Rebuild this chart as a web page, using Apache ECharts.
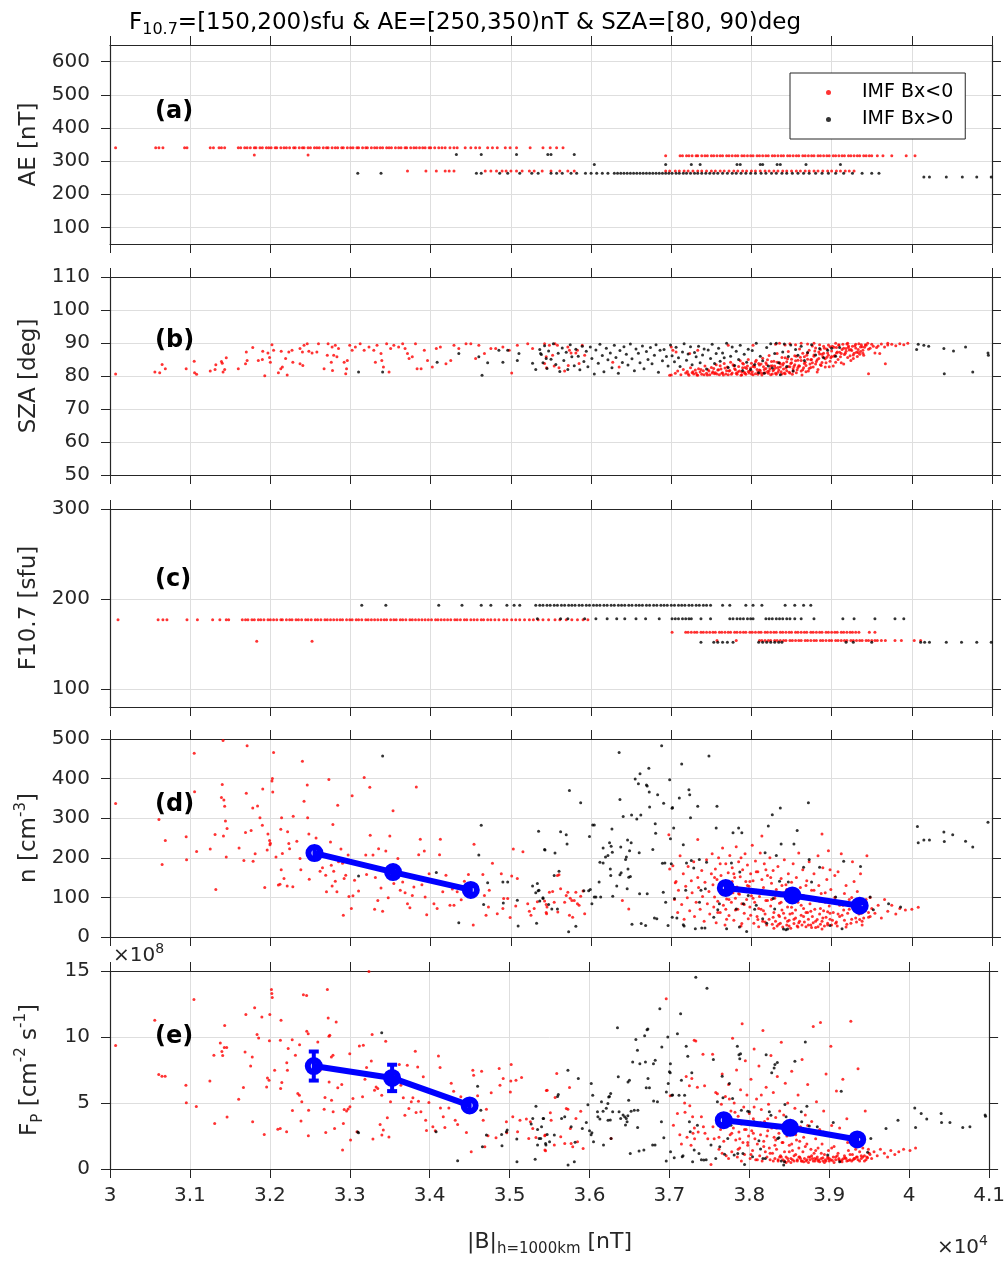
<!DOCTYPE html>
<html><head><meta charset="utf-8">
<script src="https://cdn.jsdelivr.net/npm/echarts@6/dist/echarts.min.js"></script>
<style>html,body{margin:0;padding:0;background:#fff}#c{width:1008px;height:1264px}</style>
</head><body><div id="c"></div><script>
// ---------------- DATA ----------------
// x: |B| at h=1000km in nT
const xTicks = [30000,31000,32000,33000,34000,35000,36000,37000,38000,39000,40000,41000];
const aeTicks = [100,200,300,400,500,600];
const szaTicks = [50,60,70,80,90,100,110];
const f107Ticks = [100,200,300];
const nTicks = [0,100,200,300,400,500];
const fpTicks = [0,5,10,15];

// Panel (a): AE (nT), discrete levels, |B| values per level
const aeRed340B = [30070,30570,30610,30660,30930,30960,31250,31290,31360,31390,31430,31600,31630,31680,31710,31750,31800,31820,31870,31900,31950,31980,32010,32060,32080,32130,32170,32200,32240,32290,32310,32360,32400,32420,32470,32500,32550,32580,32610,32660,32700,32720,32770,32810,32840,32890,32910,32960,33000,33030,33080,33100,33150,33190,33210,33260,33300,33330,33370,33400,33450,33480,33510,33560,33600,33630,33680,33700,33750,33790,33820,33860,33900,33930,33980,34000,34050,34100,34140,34180,34240,34290,34330,34430,34500,34560,34610,34710,34770,34830,34930,34990,35070,35240,35400,35490,35570,35650];
const aeRed318B = [31800,32470];
const aeRed316B = [36930,37110,37140,37190,37220,37260,37310,37330,37380,37420,37450,37500,37530,37570,37610,37640,37690,37720,37760,37800,37830,37880,37910,37950,37990,38020,38070,38100,38140,38180,38210,38260,38290,38330,38370,38400,38450,38480,38520,38560,38590,38640,38670,38710,38750,38780,38830,38860,38900,38940,38970,39020,39050,39090,39130,39160,39210,39240,39280,39320,39350,39400,39430,39470,39500,39570,39640,39750,39930,40040];
const aeRed270B = [33710,33940,34070,34180,34230,34290,34680,34750,34820,34890,34940,35000,35070,35140,35230,35290,35390,35500,35610,35710,35790,36930,36980,37050,37100,37160,37210,37270,37330,37380,37440,37500,37550,37610,37660,37720,37780,37830,37890,37940,38000,38050,38110,38170,38220,38280,38330,38390,38440,38500,38560,38610,38670,38720,38780,38830,38890,38950,39000,39060,39110,39170,39220,39280];
const aeBlack320B = [34320,34630,35070,35460,35500,35790];
const aeBlack290B = [36040,36930,37250,37360,37820,37860,38110,38140,38320,38360,38680,39110];
const aeBlack263B = [33090,33380,34570,34630,34860,34960,35110,35260,35340,35500,35570,35640,35750,35820,35930,36000,36070,36140,36210,36290,36330,36370,36410,36450,36490,36530,36570,36610,36650,36690,36730,36770,36810,36850,36890,36930,36970,37010,37060,37100,37150,37190,37240,37290,37330,37380,37430,37480,37530,37580,37640,37700,37760,37810,37870,37930,37990,38050,38120,38180,38250,38310,38380,38440,38510,38580,38650,38720,38800,38880,38960,39050,39150,39260,39380,39500,39590];
const aeBlack252B = [40150,40220,40430,40630,40810,40990];

// Panel (c): F10.7 (sfu), discrete levels
const f107Red177B = [30100,30600,30660,30710,30960,31090,31280,31370,31450,31480,31650,31690,31720,31770,31800,31850,31880,31920,31970,32000,32040,32080,32130,32150,32200,32240,32270,32320,32350,32390,32440,32470,32510,32560,32590,32630,32680,32710,32750,32790,32830,32870,32900,32950,32990,33020,33070,33100,33140,33190,33220,33260,33300,33340,33380,33420,33450,33500,33540,33570,33620,33650,33690,33740,33770,33810,33850,33890,33930,33970,34010,34060,34090,34130,34170,34210,34250,34300,34330,34370,34420,34450,34500,34540,34580,34630,34660,34710,34750,34800,34850,34910,34950,35010,35060,35110,35170,35230,35280,35340,35400,35470,35550,35610,35690,35760,35830,35900,35960];
const f107Red153B = [31830,32520];
const f107Red163B = [37010,37180,37210,37250,37290,37320,37370,37400,37440,37480,37520,37550,37600,37630,37670,37710,37740,37790,37820,37860,37900,37930,37980,38010,38050,38090,38120,38170,38200,38240,38280,38310,38360,38390,38430,38470,38500,38550,38580,38620,38660,38690,38740,38770,38810,38850,38880,38930,38960,39000,39040,39070,39120,39150,39190,39230,39260,39300,39340,39470,39540];
const f107Red154B = [37570,37810,38100,38130,38170,38210,38240,38290,38320,38360,38400,38430,38480,38510,38550,38590,38620,38670,38700,38740,38780,38810,38860,38890,38930,38970,39000,39050,39080,39120,39160,39190,39240,39270,39310,39350,39380,39430,39460,39500,39540,39570,39620,39670,39790,39870,40030,40110];
const f107Black193B = [33140,33440,34100,34390,34630,34750,34950,35040,35110,35310,35360,35400,35450,35490,35540,35580,35630,35670,35720,35760,35800,35850,35890,35940,35980,36030,36070,36110,36160,36200,36250,36290,36340,36380,36420,36470,36510,36560,36600,36640,36690,36730,36780,36820,36870,36910,36950,37000,37040,37090,37130,37170,37220,37260,37310,37350,37400,37440,37490,37640,37730,37930,38020,38130,38420,38540,38650,38740];
const f107Black178B = [35330,35620,35710,35920,36060,36200,36320,36420,36560,36680,36850,37010,37050,37090,37140,37180,37220,37250,37370,37490,37730,37770,37820,37860,37900,37950,37990,38020,38180,38220,38260,38310,38350,38390,38440,38480,38540,38620,38780,39140,39280,39540,39790,39900];
const f107Black152B = [37370,37530,37580,37640,37700,37770,38090,38140,38190,38240,38290,38340,38380,39180,39270,39500,40110,40160,40220,40430,40620,40810,40990];

// Panel (b): SZA (deg)
const szaRed = [[30070,80.6],[30560,81.2],[30620,81.0],[30650,83.5],[30690,82.2],[30950,82.2],[31050,84.5],[31055,81.0],[31080,80.5],[31250,81.5],[31310,82.0],[31320,83.4],[31390,84.4],[31400,83.9],[31450,85.5],[31430,82.0],[31410,81.2],[31600,82.2],[31690,83.7],[31700,87.3],[31780,88.6],[31710,84.7],[31850,84.7],[31900,85.0],[31905,87.5],[31930,80.1],[31970,87.0],[32000,84.2],[32020,89.5],[32040,87.8],[31990,85.6],[32100,81.0],[32130,82.2],[32150,82.7],[32135,87.5],[32190,85.3],[32230,87.3],[32270,87.8],[32280,84.2],[32210,80.3],[32370,88.3],[32400,87.3],[32420,89.3],[32460,89.8],[32480,87.5],[32520,87.0],[32580,87.3],[32600,89.8],[32405,83.2],[32370,83.7],[32670,82.2],[32710,86.3],[32720,89.8],[32770,88.8],[32760,84.2],[32790,86.3],[32810,89.3],[32775,81.7],[32830,85.8],[32850,88.3],[32920,84.2],[32940,80.7],[32950,82.2],[32960,84.7],[32990,89.3],[33020,87.8],[33060,88.8],[33120,89.8],[33170,87.8],[33230,88.8],[33290,87.8],[33310,84.2],[33330,89.3],[33380,86.8],[33390,84.7],[33410,82.7],[33450,89.8],[33480,81.2],[33500,88.3],[33540,89.3],[33600,88.8],[33650,89.8],[33680,88.3],[33710,86.8],[33730,85.3],[33770,85.8],[33810,89.8],[33830,82.2],[33880,82.2],[33920,87.8],[33960,84.7],[34020,82.7],[34070,88.3],[34120,88.8],[34190,83.7],[34250,84.7],[34290,89.3],[34350,88.3],[34440,89.8],[34500,89.8],[34560,85.3],[34600,89.3],[34670,86.8],[34750,88.3],[34810,88.3],[34900,88.8],[34980,87.8],[35010,80.9],[35080,89.3],[35210,89.8],[35270,88.3],[35420,89.8],
[35440,85.8],[35480,89.3],[35520,86.3],[35550,89.8],[35580,89.3],[35420,83.8],[35445,82.5],[35540,83.0],[35600,82.5],[35670,81.5],[35710,88.8],[35730,87.8],[35750,87.0],[35810,87.0],[35830,87.8],[35850,83.8],[35890,89.3],[35920,86.3],[35715,83.2],[36270,84.2],[36350,82.7],[36980,80.2],[37020,87.8],[37060,87.3],[37000,88.8],[37230,86.8],[37330,87.8],[37710,89.3],[38020,89.3],
[37000,80.3],[37050,80.8],[37080,81.5],[37120,80.4],[37150,82.0],[37180,80.9],[37200,81.4],[37220,80.2],[37240,82.5],[37260,81.0],[37280,80.6],[37300,81.8],[37320,80.3],[37340,82.2],[37360,81.2],[37380,80.5],[37400,81.6],[37420,83.0],[37440,80.8],[37460,81.9],[37480,80.4],[37500,82.6],[37520,81.3],[37540,80.7],[37560,83.4],[37580,81.8],[37600,80.4],[37620,82.1],[37640,81.0],[37660,83.8],[37680,80.6],[37700,82.7],[37720,81.5],[37740,84.2],[37760,80.9],[37780,83.1],[37800,81.9],[37820,80.5],[37840,82.9],[37860,84.6],[37880,81.3],[37900,83.6],[37920,80.8],[37940,82.3],[37960,85.0],[37980,81.6],[38000,83.9],[38020,80.4],[38040,82.7],[38060,84.8],[38080,81.2],[38100,83.3],[38120,80.9],[38140,85.4],[38160,82.0],[38180,84.0],[38200,81.4],[38220,86.2],[38240,83.0],[38260,80.6],[38280,84.5],[38300,82.4],[38320,86.8],[38340,81.8],[38360,83.7],[38380,85.6],[38400,82.1],[38420,80.7],[38440,84.3],[38460,87.4],[38480,82.8],[38500,85.1],[38520,81.5],[38540,83.4],[38560,86.0],[38580,82.6],[38600,88.2],[38620,84.7],[38640,81.9],[38660,85.8],[38680,83.2],[38700,87.0],[38720,82.3],[38740,84.9],[38760,89.1],[38780,86.4],[38800,83.6],[38820,81.2],[38840,85.3],[38860,88.0],[38880,84.1],[38900,86.9],[38920,82.7],[38940,85.7],[38960,89.4],[38980,84.5],[39000,87.6],[39020,83.0],[39040,86.2],[39060,88.6],[39080,85.0],[39100,87.2],[39120,84.0],[39140,89.6],[39160,86.5],[39180,88.3],[39200,85.6],[39220,87.9],[39240,84.7],[39260,89.0],[39280,86.9],[39300,88.5],[39320,85.9],[39340,89.8],[39360,87.4],[39380,88.9],[39400,86.3],[39430,89.3],[39460,88.1],[39500,89.6],[39540,87.0],[39580,89.1],[39620,89.7],[39660,88.8],[39700,89.4],[39750,89.6],[39800,89.2],[39850,89.8],[39900,89.5],[39950,89.9],
[37330,80.2],[37450,80.3],[37550,81.0],[37650,80.3],[37690,81.6],[37750,80.5],[37790,82.2],[37810,80.8],[37850,81.5],[37870,80.2],[37890,82.5],[37910,81.1],[37930,80.5],[37950,83.0],[37970,80.9],[37990,82.4],[38010,81.3],[38030,83.2],[38050,80.7],[38070,82.0],[38090,83.8],[38110,81.7],[38130,80.3],[38150,82.8],[38170,81.0],[38190,83.5],[38210,80.8],[38230,82.2],[38250,84.4],[38270,81.6],[38290,83.0],[38310,80.5],[38330,82.6],[38350,84.0],[38370,81.3],[38390,83.3],[38410,80.9],[38430,82.4],[38450,85.2],[38470,81.1],[38490,83.8],[38510,80.5],[38530,82.9],[38550,84.6],[38570,81.9],[38590,83.1],[38610,85.7],[38630,80.3],[38650,82.5],[38670,84.2],[38690,86.3],[38710,81.5],[38730,83.6],[38750,85.0],[38770,82.7],[38790,87.6],[38810,84.4],[38830,82.0],[38850,86.7],[38870,83.2],[38890,85.8],[38910,88.4],[38930,84.0],[38950,87.0],[38970,82.8],[38990,85.5],[39010,89.0],[39030,86.0],[39050,84.2],[39070,87.3],[39090,89.5],[39110,85.8],[39130,88.0],[39150,83.6],[39170,86.9],[39190,89.7],[39210,88.6],[39230,86.1],[39250,87.7],[39270,85.3],[39290,89.2],[39310,87.2],[39330,88.0],[39350,86.6],[39370,89.5],[39390,87.8],[39410,88.7],
[38300,89.6],[38350,89.9],[38420,89.4],[38480,89.8],[38550,89.5],[38620,89.9],[38700,89.7],[38780,89.9],[38850,89.5],[39050,89.9],[39200,89.9],[39450,89.9],[39700,89.9],[39460,80.7],[39670,83.7],[39560,88.6],[39600,86.8]];
// additional readings inside the dense red SZA cluster
const szaRedDense = [[37210,80.7],[37270,81.3],[37310,80.9],[37370,82.0],[37410,80.4],[37470,81.5],[37510,80.9],[37530,82.3],[37570,80.6],[37590,81.9],[37610,83.1],[37630,80.8],[37670,82.4],[37710,80.4],[37730,81.7],[37770,83.4],[37830,81.2],[37880,80.4],[37890,83.9],[37920,82.6],[37960,81.4],[38000,80.6],[38020,82.9],[38050,84.3],[38080,80.5],[38100,81.8],[38120,83.6],[38150,80.9],[38180,82.3],[38200,84.9],[38220,81.5],[38240,80.4],[38260,83.1],[38280,82.0],[38300,80.8],[38320,84.2],[38330,81.1],[38360,82.7],[38380,80.6],[38400,83.9],[38420,85.5],[38440,81.6],[38460,82.9],[38480,80.9],[38500,84.0],[38520,82.2],[38540,86.1],[38560,81.0],[38580,84.8],[38600,83.0],[38620,81.5],[38640,86.9],[38660,83.8],[38680,81.3],[38700,85.1],[38720,87.8],[38740,82.6],[38760,84.0],[38780,86.0],[38800,88.5],[38820,84.9],[38840,87.3],[38860,83.4],[38880,86.6],[38900,89.0],[38920,85.2],[38940,88.2],[38960,86.3],[38980,88.9],[39000,85.9],[39030,88.7],[39060,87.0],[39090,89.3],[39120,86.8],[39150,88.4],[39180,87.5],[39210,89.1],[39240,88.0],[39270,86.4],[39300,89.6],[39330,87.1],[39360,88.8],[39390,86.9],[39420,89.5],[39480,88.4],[39520,89.0]];
const szaBlack = [[33100,81.2],[33400,81.2],[34080,84.2],[34350,86.8],[34600,85.8],[34640,80.2],[34710,84.0],[34900,84.2],[34850,87.8],[34960,87.8],[35080,84.7],[35100,86.8],[35270,83.9],[35310,82.0],[35370,86.8],[35440,85.3],
[35360,88.0],[35380,86.5],[35400,84.0],[35420,89.2],[35450,82.3],[35470,87.6],[35500,85.1],[35530,89.8],[35560,83.5],[35590,86.9],[35610,81.4],[35640,88.5],[35660,84.7],[35690,87.2],[35710,82.0],[35740,89.5],[35760,85.8],[35790,83.1],[35810,88.1],[35840,86.0],[35860,81.9],[35890,89.0],[35910,84.4],[35940,87.5],[35960,82.8],[35990,88.8],[36010,85.3],[36040,80.6],[36060,87.9],[36090,83.9],[36110,89.6],[36140,86.2],[36160,81.3],[36190,88.4],[36210,84.9],[36240,87.0],[36260,82.5],[36290,89.3],[36310,85.6],[36340,80.8],[36360,87.7],[36390,84.1],[36410,88.9],[36440,86.6],[36460,83.3],[36490,89.7],[36510,85.2],[36540,81.6],[36560,88.2],[36590,86.9],[36610,84.0],[36640,89.1],[36660,82.2],[36690,87.4],[36710,85.0],[36740,88.6],[36760,83.7],[36790,86.3],[36810,89.5],[36840,81.1],[36860,87.8],[36890,84.6],[36910,88.0],[36940,85.9],[36960,83.0],[36990,89.4],[37010,86.1],[37040,84.3],[37060,88.7],[37090,85.5],[37110,82.9],[37140,87.3],[37160,89.8],[37190,84.8],[37210,86.7],[37240,88.9],[37260,83.4],[37290,87.1],[37310,85.8],[37340,89.0],[37360,84.0],[37390,86.4],[37410,88.2],[37440,82.1],[37460,87.9],[37490,85.3],[37510,89.6],[37540,83.8],[37560,86.8],[37590,88.4],[37610,84.5],[37640,87.0],[37660,85.5],[37690,89.9],[37710,82.6],[37740,86.0],[37760,88.8],[37790,83.2],[37810,87.5],[37840,85.0],[37860,89.3],[37890,81.7],[37910,86.6],[37940,84.2],[37960,88.1],[37990,82.0],[38010,87.7],[38040,83.5],[38060,89.9],[38090,81.0],[38110,86.0],[38140,84.6],[38160,80.8],[38190,88.6],[38210,83.0],[38240,89.8],[38260,82.4],[38290,86.8],[38310,89.9],[38340,84.0],[38360,80.4],[38390,87.3],[38410,89.7],[38440,82.9],[38460,85.9],[38490,89.4],[38520,81.5],[38550,88.0],[38580,86.3],[38620,89.0],[38660,84.7],[38700,87.1],[38750,89.5],[38800,86.4],[38850,88.3],[38900,85.5],[38950,87.8],[39000,88.4],[39050,86.0],[39100,88.6],
[40060,88.0],[40080,89.6],[40150,89.3],[40210,89.0],[40400,88.3],[40405,80.7],[40520,87.6],[40670,88.8],[40760,81.2],[40950,87.0],[40955,86.3]];

// Panel (d): n (cm^-3)
const nRed = [[30070,337],[30610,297],[30650,183],[30690,244],[30950,253],[30955,195],[31050,464],[31055,367],[31080,216],[31250,222],[31310,259],[31320,120],[31400,385],[31390,352],[31420,346],[31430,330],[31440,293],[31460,274],[31450,202],[31410,496],[31415,255],[31610,225],[31670,193],[31690,264],[31700,363],[31710,483],[31760,269],[31780,326],[31785,191],[31810,210],[31840,331],[31870,301],[31900,282],[31905,374],[31930,125],[31970,260],[31990,244],[31995,233],[32000,237],[31960,220],[32020,394],[32025,400],[32040,466],[32030,366],[32070,202],[32100,131],[32120,133],[32130,272],[32135,170],[32140,301],[32150,211],[32170,148],[32210,129],[32215,266],[32230,236],[32240,223],[32280,127],[32285,305],[32330,242],[32370,198],[32380,170],[32400,444],[32420,343],[32460,384],[32465,301],[32480,260],[32485,146],[32570,250],[32620,166],[32650,175],[32690,156],[32700,114],[32730,398],[32750,240],[32760,181],[32770,129],[32780,284],[32790,166],[32810,141],[32830,114],[32840,333],[32850,190],[32880,222],[32900,186],[32920,148],[32910,55],[32940,156],[32970,207],[32980,102],[33010,72],[33020,357],[33030,104],[33050,143],[33100,116],[33170,403],[33190,207],[33200,158],[33240,378],[33245,257],[33280,207],[33300,70],[33310,150],[33340,92],[33350,223],[33380,124],[33400,65],[33440,217],[33490,255],[33470,99],[33530,319],[33540,135],[33590,198],[33620,118],[33650,139],[33680,112],[33710,84],[33740,74],[33770,105],[33790,126],[33820,379],[33850,208],[33870,247],[33890,132],[33920,217],[33930,101],[33950,56],[33980,160],[34040,84],[34080,72],[34110,208],[34120,247],[34150,114],[34190,156],[34240,80],[34270,121],[34290,80],[34330,114],[34380,94],[34420,141],[34470,158],[34530,30],[34540,234],[34560,107],[34650,158],[34670,105],[34690,55],[34730,118],[34720,76],[34770,186],[34830,59],[34880,160],[34900,72],[34910,97],[34960,97],[34990,49],[35010,154],[35030,222],[35060,78],[35080,148],[35150,215],[35210,84],[35230,65],[35250,55],[35290,72],[35330,89],[35440,82],[35445,59],
[35420,91],[35450,76],[35440,62],[35480,113],[35520,115],[35580,155],[35600,157],[35620,122],[35540,88],[35585,63],[35670,88],[35690,105],[35710,113],[35730,55],[35740,98],[35760,92],[35770,50],[35790,92],[35810,113],[35830,84],[35850,80],[35870,103],[35900,116],[35920,59],[36390,92],[36470,71],[36970,258],[36980,172],[37050,137],[37330,246],[38130,255],[38880,260],
[37020,180],[37040,95],[37060,140],[37080,62],[37090,118],[37110,205],[37130,82],[37150,160],[37160,45],[37180,128],[37200,99],[37210,178],[37230,66],[37250,142],[37260,112],[37280,190],[37290,52],[37310,88],[37330,150],[37340,125],[37360,70],[37380,168],[37390,102],[37410,40],[37420,138],[37440,195],[37450,84],[37470,115],[37480,58],[37500,160],
[37510,210],[37520,132],[37530,76],[37540,101],[37550,172],[37560,36],[37570,145],[37580,90],[37590,200],[37600,120],[37610,62],[37620,155],[37630,108],[37640,225],[37650,80],[37660,140],[37670,30],[37680,185],[37690,96],[37700,118],[37710,162],[37720,54],[37730,206],[37740,134],[37750,88],[37760,175],[37770,112],[37780,42],[37790,150],[37800,98],[37810,228],[37820,126],[37830,70],[37840,190],[37850,108],[37860,152],[37870,28],[37880,84],[37890,170],[37900,118],[37910,60],[37920,210],[37930,140],[37940,95],[37950,182],[37960,46],[37970,128],[37980,76],[37990,160],[38000,104],
[38010,232],[38020,142],[38030,35],[38040,88],[38050,192],[38060,118],[38070,52],[38080,165],[38090,26],[38100,102],[38110,212],[38120,70],[38130,145],[38140,40],[38150,125],[38160,185],[38170,58],[38180,92],[38190,30],[38200,155],[38210,110],[38220,45],[38230,200],[38240,78],[38250,136],[38260,32],[38270,168],[38280,62],[38290,98],[38300,40],[38310,120],[38320,28],[38330,178],[38340,55],[38350,85],[38360,35],[38370,148],[38380,68],[38390,25],[38400,112],[38410,195],[38420,48],[38430,132],[38440,30],[38450,76],[38460,160],[38470,42],[38480,95],[38490,22],[38500,138],
[38510,60],[38520,185],[38530,34],[38540,108],[38550,48],[38560,150],[38570,28],[38580,88],[38590,212],[38600,40],[38610,125],[38620,55],[38630,30],[38640,170],[38650,72],[38660,38],[38670,100],[38680,26],[38690,142],[38700,62],[38710,45],[38720,190],[38730,84],[38740,30],[38750,118],[38760,52],[38770,36],[38780,160],[38790,70],[38800,24],[38810,96],[38820,44],[38830,205],[38840,130],[38850,58],[38860,32],[38870,110],[38880,40],[38890,175],[38900,66],[38910,28],[38920,88],[38930,50],[38940,145],[38950,35],[38960,218],[38970,78],[38980,45],[38990,120],[39000,30],
[39020,62],[39040,100],[39060,38],[39080,165],[39100,52],[39120,210],[39140,80],[39160,42],[39180,130],[39200,60],[39220,95],[39240,35],[39260,190],[39280,70],[39300,48],[39320,115],[39340,58],[39360,160],[39380,40],[39400,85],[39420,66],[39440,205],[39460,50],[39480,100],[39500,72],
[39540,60],[39580,80],[39620,48],[39660,95],[39700,65],[39750,80],[39800,58],[39850,72],[39920,68],[40000,70],[40080,75]];
// additional readings inside the dense red n cluster
const nRedDense = [[37540,150],[37580,62],[37610,185],[37650,118],[37690,45],[37720,95],[37760,140],[37800,68],[37840,110],[37870,200],[37910,82],[37950,130],[37990,55],[38020,98],[38060,165],[38090,72],[38130,118],[38170,38],[38200,92],[38240,150],[38270,50],[38300,105],[38340,32],[38370,88],[38400,60],[38440,120],[38470,28],[38500,75],[38530,45],[38560,100],[38590,36],[38620,80],[38650,52],[38680,130],[38710,30],[38740,65],[38770,95],[38800,40],[38830,26],[38860,72],[38890,48],[38920,112],[38950,30],[38980,60],[39010,42],[39040,155],[39070,28],[39100,80],[39130,55],[39160,110],[39190,32],[39220,70],[39250,45],[39280,90],[39310,38],[39340,75],[39370,60],[39400,48],[39430,95],[39460,62],[37680,70],[37780,160],[37880,34],[37980,140],[38080,44],[38180,170],[38280,22],[38380,130],[38480,58],[38580,25],[38680,62],[38780,118],[38880,20],[38980,170],[39080,58],[39180,25],[39280,140],[39380,30],[39480,52],[38150,66],[38250,95],[38350,52],[38450,40],[38550,68],[38650,105],[38750,24],[38850,90],[38950,64],[39050,35],[39150,68],[39250,100],[39350,44]];
const nBlack = [[33400,457],[33100,154],[34070,163],[34350,36],[34630,282],[34600,207],[34660,82],[34710,137],[34900,139],[34960,139],[34905,86],[35080,93],[35090,28],[35270,129],[35310,112],[35340,117],[35330,135],[35345,267],[35360,91],[35400,99],[35420,221],[35320,35],[35470,82],
[35350,118],[35400,97],[35425,220],[35550,212],[35540,155],[35600,166],[35510,71],[35580,71],[35620,266],[35690,258],[35700,235],[35730,370],[35720,13],[35810,27],[35870,339],[35910,117],[35970,117],[35990,120],[35980,254],[36020,283],[36040,283],[36010,84],[36100,139],[36110,189],[36150,187],[36040,101],[36060,101],[36120,101],[36150,225],[36180,202],[36210,206],[36230,238],[36250,229],[36240,172],[36260,273],[36270,103],[36265,214],[36245,155],[36320,129],[36350,466],[36360,347],[36370,227],[36360,157],[36375,162],[36400,304],[36430,196],[36440,202],[36450,122],[36455,245],[36460,172],[36470,151],[36490,153],[36480,218],[36500,238],[36505,308],[36510,32],[36550,399],[36570,298],[36590,387],[36600,213],[36605,109],[36610,412],[36620,308],[36625,34],[36680,29],[36690,384],[36700,381],[36720,426],[36725,366],[36730,328],[36700,109],[36770,221],[36790,48],[36800,286],[36805,262],[36820,46],[36830,359],[36880,483],[36900,113],[36905,338],[36890,186],[36920,187],[36930,88],[36960,29],[36980,397],[36990,248],[37000,185],[37010,325],[37015,327],[37012,50],[37030,275],[37040,97],[37070,48],[37100,351],[37130,437],[37150,233],[37150,31],[37160,28],[37190,187],[37220,372],[37230,359],[37240,301],[37180,118],[37250,193],[37280,174],[37300,21],[37330,330],[37350,196],[37352,88],[37370,118],[37380,23],[37420,23],[37440,189],[37425,122],[37470,457],[37530,50],[37560,275],[37570,330],[37580,69],[37600,84],[37690,21],[37750,187],[37770,263],[37810,71],[37840,275],[37850,25],[37855,164],[37880,263],[37900,84],[37940,14],[37960,105],[38040,70],[38060,80],[38140,46],[38170,213],[38190,35],[38210,280],[38260,309],[38270,97],[38290,71],[38310,206],[38350,141],[38360,326],[38370,235],[38400,20],[38430,18],[38450,20],[38460,139],[38530,235],[38570,269],[38650,176],[38710,339],[38720,196],[38750,139],[38850,176],[38980,29],[39050,101],[39130,21],[39150,191],[39360,178],[39480,101],[39520,69],[39710,84],[39860,76],[40070,279],[40080,238],[40150,245],[40220,245],[40400,265],[40405,241],[40510,258],[40670,242],[40760,227],[40950,290]];

// Panel (e): Fp in units of 1e8 cm^-2 s^-1
const fpRed = [[30070,9.35],[30560,11.26],[30610,7.15],[30650,7.03],[30690,7.03],[30950,6.35],[30955,5.01],[31050,12.85],[31080,4.74],[31250,6.67],[31310,3.45],[31300,8.61],[31380,9.55],[31400,8.9],[31410,8.6],[31430,9.2],[31460,9.2],[31435,10.88],[31465,3.93],[31610,5.29],[31670,6.17],[31690,8.87],[31700,11.71],[31760,7.81],[31780,8.49],[31785,3.58],[31810,12.22],[31840,10.18],[31860,9.92],[31900,11.51],[31930,2.62],[31970,6.9],[31990,6.73],[31960,6.22],[31995,9.72],[32000,11.71],[32020,13.6],[32030,13.0],[32025,13.3],[32060,7.48],[32100,3.02],[32130,3.07],[32132,9.75],[32135,6.1],[32140,11.26],[32150,6.55],[32210,2.82],[32212,8.04],[32220,7.48],[32230,9.12],[32280,9.8],[32283,4.43],[32320,8.61],[32350,5.72],[32370,5.59],[32372,9.42],[32390,3.63],[32400,5.09],[32420,13.2],[32460,13.15],[32462,10.43],[32480,10.25],[32482,2.52],[32485,4.46],[32600,9.62],[32630,7.48],[32680,4.53],[32690,5.42],[32700,2.77],[32720,13.6],[32730,11.44],[32740,10.05],[32750,10.13],[32742,6.6],[32770,8.49],[32790,8.61],[32772,5.21],[32792,4.33],[32810,3.07],[32830,11.13],[32850,6.15],[32900,6.4],[32910,1.44],[32920,3.45],[32930,4.5],[32960,4.4],[32980,4.55],[33000,8.74],[33002,4.71],[33010,2.19],[33040,5.34],[33090,2.82],[33120,9.32],[33170,9.37],[33160,5.47],[33190,6.8],[33210,7.68],[33240,14.96],[33280,10.18],[33270,8.19],[33290,2.27],[33310,5.97],[33330,6.22],[33350,6.1],[33380,3.38],[33400,5.59],[33402,2.57],[33420,2.95],[33450,9.67],[33470,3.88],[33490,2.42],[33510,5.09],[33570,7.05],[33620,7.91],[33640,6.35],[33670,5.39],[33690,4.08],[33720,7.86],[33740,4.58],[33770,5.09],[33790,5.39],[33820,8.92],[33830,4.28],[33850,7.73],[33860,5.14],[33890,4.33],[33920,6.98],[33950,3.7],[33960,2.92],[33990,5.04],[34040,3.2],[34070,2.9],[34110,8.56],[34130,7.68],[34135,4.63],[34170,3.95],[34190,3.15],[34240,4.63],[34270,6.5],[34300,5.89],[34320,3.7],[34350,3.38],[34390,5.47],[34460,2.77],[34520,1.31],[34540,7.48],[34550,7.1],[34600,5.54],[34650,7.41],[34670,3.7],[34690,1.69],[34710,4.53],[34730,2.52],[34770,5.77],[34830,2.37],[34870,7.61],[34880,6.35],[34920,6.85],[34960,3.58],[34965,2.75],[35010,5.84],[35015,6.67],[35020,7.91],[35040,3.95],[35080,6.73],[35100,2.82],[35130,3.7],[35150,6.93],[35210,3.78],[35240,2.32],[35260,3.58],[35290,3.07],[35330,2.39],[35440,2.52],[35442,1.44],[35460,5.94],
[35445,2.57],[35450,1.39],[35470,5.97],[35510,4.26],[35520,3.7],[35570,5.42],[35590,7.23],[35560,1.81],[35640,2.44],[35690,1.94],[35710,4.58],[35730,4.53],[35750,6.17],[35760,3.07],[35770,1.94],[35790,1.69],[35830,3.83],[35850,2.07],[35890,4.38],[35920,1.56],[36270,2.32],[36960,12.9],[37010,5.54],[37050,3.32],
[37100,4.2],[37130,2.6],[37150,1.9],[37190,5.0],[37195,4.3],[37210,7.0],[37220,2.4],[37250,6.3],[37255,4.8],[37270,1.8],[37280,6.85],[37290,3.95],[37295,2.7],[37310,9.75],[37312,3.1],[37315,2.3],[37330,9.7],[37350,6.2],[37360,2.8],[37400,3.95],[37420,8.7],[37425,3.2],[37440,6.3],[37445,2.7],[37480,2.3],[37520,0.35],[37540,8.7],[37545,3.2],[37560,2.3],[37580,5.8],[37600,5.7],[37620,1.5],[37640,3.0],[37650,4.9],[37660,7.2],[37680,2.1],[37700,5.5],[37710,1.0],[37730,3.6],[37740,6.4],[37760,2.6],[37770,4.4],[37780,1.3],[37790,9.9],[37800,3.1],[37810,5.0],[37830,2.2],[37840,7.5],[37850,0.9],[37860,4.0],[37870,2.8],[37880,1.6],[37890,6.0],[37900,3.4],[37910,11.0],[37920,2.0],[37930,4.7],[37940,1.1],[37950,8.2],[37960,3.0],[37970,5.6],[37980,1.8],[37990,2.5],[38000,4.2],
[38010,0.8],[38020,6.8],[38030,2.9],[38040,1.4],[38050,3.8],[38060,9.1],[38070,2.3],[38080,0.7],[38090,5.3],[38100,1.9],[38110,3.3],[38120,7.8],[38130,1.0],[38140,2.6],[38150,4.5],[38160,0.6],[38170,10.5],[38180,2.1],[38190,3.6],[38200,1.3],[38210,6.2],[38220,0.9],[38230,2.9],[38240,4.9],[38250,1.6],[38260,0.7],[38270,8.6],[38280,3.1],[38290,1.2],[38300,5.8],[38310,2.4],[38320,0.8],[38330,3.9],[38340,1.5],[38350,7.0],[38360,0.6],[38370,2.7],[38380,4.4],[38390,1.0],[38400,9.6],[38410,2.0],[38420,0.7],[38430,3.4],[38440,1.3],[38450,6.5],[38460,0.9],[38470,2.5],[38480,5.0],[38490,0.6],[38500,1.8],
[38510,3.7],[38520,0.8],[38530,7.4],[38540,1.4],[38550,2.9],[38560,0.6],[38570,4.6],[38580,1.1],[38590,2.2],[38600,0.7],[38610,5.6],[38620,1.6],[38630,0.9],[38640,3.2],[38650,0.6],[38660,8.3],[38670,1.3],[38680,2.4],[38690,0.8],[38700,4.1],[38710,0.6],[38720,1.9],[38730,6.4],[38740,0.9],[38750,2.8],[38760,0.7],[38770,1.5],[38780,3.6],[38790,0.8],[38800,10.8],[38810,1.2],[38820,0.6],[38830,2.3],[38840,5.1],[38850,0.9],[38860,1.6],[38870,0.7],[38880,3.0],[38890,11.1],[38900,0.8],[38910,1.9],[38920,0.6],[38930,4.4],[38940,1.1],[38950,0.7],[38960,7.2],[38970,2.6],[38980,0.8],[38990,1.4],[39000,0.6],
[39020,9.3],[39030,3.3],[39050,0.9],[39060,1.7],[39080,0.7],[39090,5.9],[39110,1.2],[39120,0.8],[39140,2.4],[39160,0.7],[39170,6.8],[39190,1.0],[39210,0.8],[39220,3.8],[39240,1.4],[39260,0.7],[39270,11.2],[39290,1.1],[39310,0.8],[39330,2.1],[39350,0.9],[39360,7.6],[39380,1.3],[39400,0.8],[39420,1.6],[39440,1.0],[39450,4.4],[39470,0.9],[39490,1.5],[39510,1.1],[39530,0.8],
[39560,1.3],[39600,1.0],[39640,1.5],[39690,1.2],[39730,0.9],[39770,1.4],[39820,1.1],[39870,1.3],[39930,1.5],[40010,1.4],[40080,1.6]];
// additional readings inside the dense red Fp cluster
const fpRedDense = [[37620,2.4],[37660,1.2],[37700,3.6],[37740,0.8],[37780,2.7],[37820,4.3],[37860,1.5],[37900,0.6],[37940,3.0],[37980,2.0],[38020,1.1],[38060,4.7],[38100,0.7],[38140,3.5],[38180,1.7],[38220,2.5],[38260,1.2],[38300,0.6],[38340,3.1],[38380,0.9],[38420,2.0],[38460,0.5],[38500,1.3],[38540,0.7],[38580,2.6],[38620,0.9],[38660,0.6],[38700,1.7],[38740,0.5],[38780,1.0],[38820,0.8],[38860,0.6],[38900,1.2],[38940,0.5],[38980,0.9],[39020,0.7],[39060,0.5],[39100,1.0],[39140,0.6],[39180,0.8],[39220,0.6],[39260,1.1],[39300,0.7],[39340,0.9],[39380,0.6],[39420,0.9],[39460,0.7],[39500,1.2],[38320,1.8],[38360,0.7],[38400,0.9],[38440,0.6],[38480,0.8],[38520,0.5],[38560,1.0],[38600,0.6],[38640,0.8],[38680,0.55],[38720,0.7],[38760,0.9],[38800,0.6],[38840,0.75],[38880,0.55],[38920,0.85],[38960,0.6],[39000,0.8],[39040,0.65],[39080,0.9],[39120,0.7],[39160,0.55],[39200,0.85],[39240,0.65],[39280,0.6],[39320,0.8],[39360,0.7],[39400,1.0],[39440,0.6],[39480,0.85],[37750,5.3],[37880,2.3],[38050,2.7],[38150,5.6],[38230,3.8],[38330,2.2],[38430,4.1],[38530,1.9],[38630,2.1],[38730,3.3],[38830,1.4],[38930,2.8],[39030,1.6],[39130,3.1],[39230,2.0],[39330,1.5]];
const fpBlack = [[33400,10.33],[33100,2.8],[33110,2.75],[34080,2.82],[34350,0.63],[34600,6.27],[34640,4.46],[34660,1.69],[34710,2.57],[34900,2.62],[34905,1.76],[34960,2.82],[34970,2.95],[35090,2.27],[35092,0.55],[35270,3.4],[35290,3.83],[35320,0.73],[35330,4.76],[35350,3.0],[35370,2.32],[35400,3.2],[35420,3.83],[35450,1.94],[35470,2.62],
[35350,1.81],[35390,2.32],[35425,3.83],[35455,1.81],[35500,2.07],[35560,2.57],[35610,5.64],[35600,5.49],[35650,3.83],[35690,3.95],[35730,7.48],[35732,0.3],[35770,3.2],[35810,0.55],[35820,2.02],[35860,6.85],[35910,3.07],[35960,3.53],[35980,4.86],[36000,2.9],[36020,2.6],[36030,2.75],[36022,6.47],[36040,5.59],[36050,2.07],[36100,4.33],[36105,3.95],[36130,3.78],[36150,5.09],[36170,4.38],[36175,1.81],[36210,4.6],[36230,4.97],[36240,5.45],[36250,5.5],[36232,3.7],[36260,3.72],[36270,2.32],[36265,5.72],[36290,4.33],[36350,10.7],[36360,6.98],[36370,4.33],[36390,3.83],[36420,4.1],[36440,3.95],[36460,3.83],[36450,3.33],[36470,3.58],[36480,4.03],[36482,6.6],[36500,6.73],[36490,5.21],[36510,1.18],[36520,4.38],[36560,4.46],[36540,8.11],[36580,9.82],[36600,8.99],[36605,4.46],[36602,3.15],[36620,1.36],[36630,7.98],[36680,1.44],[36690,10.1],[36720,10.55],[36730,10.6],[36700,8.11],[36710,6.15],[36750,6.15],[36732,6.85],[36790,1.81],[36820,1.81],[36800,7.98],[36822,8.24],[36802,5.16],[36850,5.09],[36880,12.14],[36900,3.58],[36905,9.24],[36930,2.37],[36960,0.6],[36962,5.84],[36980,10.0],[36985,6.47],[37000,7.36],[37010,7.3],[37012,7.98],[37014,1.31],[37030,5.59],[37040,5.6],[37060,0.86],[37100,10.25],[37120,5.59],[37140,11.76],[37150,6.73],[37160,0.93],[37170,1.0],[37190,5.59],[37210,9.3],[37230,8.54],[37250,3.58],[37260,2.82],[37280,7.3],[37290,0.55],[37310,1.44],[37330,14.53],[37350,3.32],[37370,1.18],[37400,0.7],[37430,0.68],[37460,0.7],[37470,13.7],[37520,1.81],[37550,8.29],[37580,0.8],[37600,5.09],[37630,1.69],[37660,7.03],[37670,5.39],[37690,1.11],[37730,2.32],[37750,6.47],[37770,3.32],[37790,5.34],[37810,1.06],[37850,9.3],[37870,8.66],[37880,8.36],[37890,8.74],[37855,1.18],[37900,4.46],[37920,1.18],[37940,0.35],[37950,3.45],[37980,4.38],[38000,4.33],[38040,0.93],[38060,3.58],[38120,2.14],[38140,1.51],[38170,0.8],[38200,0.8],[38210,8.66],[38250,4.33],[38270,4.08],[38280,7.3],[38310,7.66],[38320,7.91],[38350,8.06],[38355,2.32],[38370,2.37],[38400,0.6],[38430,0.3],[38440,0.55],[38445,4.89],[38460,3.95],[38490,2.7],[38570,8.16],[38650,4.33],[38655,3.58],[38700,9.62],[38720,4.76],[38750,3.25],[38850,3.2],[38980,1.06],[39050,3.53],[39130,0.55],[39150,5.89],[39360,2.57],[39480,1.26],[39520,2.32],[39710,3.07],[39860,3.7],[40070,4.63],[40080,3.15],[40150,4.21],[40220,3.78],[40400,4.21],[40405,3.53],[40510,3.53],[40670,3.15],[40760,3.2],[40950,4.1],[40955,4.0]];

// Binned medians (blue) with error bars
const binLeftB = [32550,33530,34500];
const binRightB = [37680,38510,39350];
const nMedLeft = [212,164,119];
const nMedRight = [124,105,79];
const nErrLeft = [14,12,10];
const nErrRight = [8,7,6];
const fpMedLeft = [7.8,6.9,4.82];
const fpMedRight = [3.7,3.12,2.24];
const fpErrLeft = [1.1,1.0,0.4];
const fpErrRight = [0.3,0.3,0.25];

// ---------------- CHART ----------------
const FONT = '"DejaVu Sans", sans-serif';
const AX = '#262626';
const RED = '#ff0000', BLK = '#000000', BLUE = '#0000ff';
const chart = echarts.init(document.getElementById('c'), null, {renderer:'canvas'});

const gridPos = [[45,199],[277,198],[509,198],[739,198],[971,198]];
const yCfg = [
  {min:50,max:650,custom:aeTicks},
  {min:50,max:110,interval:10},
  {min:80,max:300,custom:f107Ticks},
  {min:0,max:500,interval:100},
  {min:0,max:15,interval:5}
];
const yNames = [
  '{m|AE [nT]}',
  '{m|SZA [deg]}',
  '{m|F10.7 [sfu]}',
  '{m|n [cm}{p|-3}{m|]}',
  '{m|F}{b|P}{m| [cm}{p|-2}{m| s}{p|-1}{m|]}'
];
const nameRich = {
  m:{fontFamily:FONT,fontSize:23,fontWeight:'normal',lineHeight:32,verticalAlign:'middle',color:AX},
  p:{fontFamily:FONT,fontSize:15,fontWeight:'normal',lineHeight:16,verticalAlign:'top',color:AX},
  b:{fontFamily:FONT,fontSize:15,fontWeight:'normal',lineHeight:16,verticalAlign:'bottom',color:AX}
};

const grid = gridPos.map(g => ({left:110,right:16,top:g[0],height:g[1],containLabel:false}));
const xAxis = [], yAxis = [];
const tickStyle = {show:true,inside:false,length:9,lineStyle:{color:AX,width:1}};
const lineStyle = {show:true,onZero:false,lineStyle:{color:AX,width:1.2}};
const gridLine = {show:true,lineStyle:{color:'#dedede',width:1}};
for (let i=0;i<5;i++){
  xAxis.push({type:'value',gridIndex:i,position:'bottom',min:xTicks[0],max:xTicks[xTicks.length-1],interval:xTicks[1]-xTicks[0],
    axisLine:lineStyle,axisTick:tickStyle,splitLine:gridLine,
    axisLabel:{show:i===4,margin:17,fontFamily:FONT,fontSize:20,color:AX,formatter:v=>String(+(v/1e4).toFixed(1))},
    name:i===4?'{m||B|}{b|h=1000km}{m| [nT]}':'',nameLocation:'middle',nameGap:58,
    nameTextStyle:{rich:{m:{fontFamily:FONT,fontSize:22,fontWeight:'normal',lineHeight:30,verticalAlign:'middle',color:AX},b:{fontFamily:FONT,fontSize:15,fontWeight:'normal',lineHeight:15,verticalAlign:'bottom',color:AX}}}});
}
for (let i=0;i<5;i++){
  xAxis.push({type:'value',gridIndex:i,position:'top',min:xTicks[0],max:xTicks[xTicks.length-1],interval:xTicks[1]-xTicks[0],
    axisLine:lineStyle,axisTick:tickStyle,splitLine:{show:false},axisLabel:{show:false}});
}
for (let i=0;i<5;i++){
  const c = yCfg[i];
  const base = {type:'value',gridIndex:i,min:c.min,max:c.max};
  if (c.interval) base.interval = c.interval;
  const lab = {fontFamily:FONT,fontSize:20,color:AX,margin:20};
  const tk = Object.assign({},tickStyle);
  if (c.custom){ lab.customValues = c.custom; tk.customValues = c.custom; }
  yAxis.push(Object.assign({},base,{position:'left',axisLine:lineStyle,axisTick:tk,splitLine:gridLine,axisLabel:lab,
    name:yNames[i],nameLocation:'middle',nameGap:64,nameRotate:90,nameTextStyle:{rich:nameRich}}));
}
for (let i=0;i<5;i++){
  const c = yCfg[i];
  const base = {type:'value',gridIndex:i,min:c.min,max:c.max};
  if (c.interval) base.interval = c.interval;
  const tk = Object.assign({},tickStyle);
  if (c.custom){ tk.customValues = c.custom; }
  yAxis.push(Object.assign({},base,{position:'right',axisLine:lineStyle,axisTick:tk,splitLine:{show:false},axisLabel:{show:false}}));
}

const series = [];
function dots(name,color,idx,data){
  series.push({type:'scatter',name,xAxisIndex:idx,yAxisIndex:idx,data,symbol:'circle',symbolSize:3,
    itemStyle:{color},silent:true,z:2+(color===BLK?1:0)});
}
const lvl = (arr,v) => arr.map(b => [b,v]);
// (a)
dots('IMF Bx<0',RED,0,[].concat(lvl(aeRed340B,340),lvl(aeRed318B,318),lvl(aeRed316B,316),lvl(aeRed270B,270)));
dots('IMF Bx>0',BLK,0,[].concat(lvl(aeBlack320B,320),lvl(aeBlack290B,290),lvl(aeBlack263B,263),lvl(aeBlack252B,252)));
// (b)
dots('IMF Bx<0',RED,1,szaRed.concat(szaRedDense));
dots('IMF Bx>0',BLK,1,szaBlack);
// (c)
dots('IMF Bx<0',RED,2,[].concat(lvl(f107Red177B,177),lvl(f107Red153B,153),lvl(f107Red163B,163),lvl(f107Red154B,154)));
dots('IMF Bx>0',BLK,2,[].concat(lvl(f107Black193B,193),lvl(f107Black178B,178),lvl(f107Black152B,152)));
// (d)
dots('IMF Bx<0',RED,3,nRed.concat(nRedDense));
dots('IMF Bx>0',BLK,3,nBlack);
// (e)
dots('IMF Bx<0',RED,4,fpRed.concat(fpRedDense));
dots('IMF Bx>0',BLK,4,fpBlack);

function errRender(params, api){
  const x = api.value(0), lo = api.value(1), hi = api.value(2);
  const p1 = api.coord([x,hi]), p2 = api.coord([x,lo]);
  const cw = 5, st = {stroke:BLUE,lineWidth:4};
  return {type:'group',children:[
    {type:'line',shape:{x1:p1[0],y1:p1[1],x2:p2[0],y2:p2[1]},style:st},
    {type:'line',shape:{x1:p1[0]-cw,y1:p1[1],x2:p1[0]+cw,y2:p1[1]},style:st},
    {type:'line',shape:{x1:p2[0]-cw,y1:p2[1],x2:p2[0]+cw,y2:p2[1]},style:st}
  ]};
}
function medians(idx,bx,med,err){
  series.push({type:'custom',xAxisIndex:idx,yAxisIndex:idx,renderItem:errRender,z:5,silent:true,
    encode:{x:0,y:[1,2]},data:bx.map((b,k)=>[b,med[k]-err[k],med[k]+err[k]])});
  series.push({type:'line',xAxisIndex:idx,yAxisIndex:idx,z:6,silent:true,data:bx.map((b,k)=>[b,med[k]]),
    symbol:'circle',symbolSize:12,showSymbol:true,
    lineStyle:{color:BLUE,width:6},itemStyle:{color:'rgba(0,0,0,0)',borderColor:BLUE,borderWidth:6}});
}
medians(3,binLeftB,nMedLeft,nErrLeft);
medians(3,binRightB,nMedRight,nErrRight);
medians(4,binLeftB,fpMedLeft,fpErrLeft);
medians(4,binRightB,fpMedRight,fpErrRight);

const panelLabels = ['(a)','(b)','(c)','(d)','(e)'];
const panelLabelY = [112,341,580,805,1037];
const graphic = panelLabels.map((t,i)=>({type:'text',x:155,y:panelLabelY[i],z:10,
  style:{text:t,fontFamily:FONT,fontWeight:'bold',fontSize:24,fill:'#000',verticalAlign:'middle'}}));
const expRich = {a:{fontFamily:FONT,fontSize:20,lineHeight:28,verticalAlign:'middle',fill:AX,color:AX},s:{fontFamily:FONT,fontSize:14,lineHeight:14,verticalAlign:'top',fill:AX,color:AX}};
graphic.push({type:'text',x:113,y:956,z:10,style:{text:'{a|×10}{s|8}',verticalAlign:'middle',rich:expRich}});
graphic.push({type:'text',x:988,y:1248,z:10,style:{text:'{a|×10}{s|4}',align:'right',verticalAlign:'middle',rich:expRich}});

const option = {
  animation:false,
  backgroundColor:'#ffffff',
  textStyle:{fontFamily:FONT},
  title:{left:124,top:3,text:'{m|F}{s|10.7}{m|=[150,200)sfu & AE=[250,350)nT & SZA=[80, 90)deg}',
    textStyle:{fontWeight:'normal',rich:{m:{fontFamily:FONT,fontSize:23,fontWeight:'normal',lineHeight:30,verticalAlign:'middle',color:'#000'},
                     s:{fontFamily:FONT,fontSize:16,fontWeight:'normal',lineHeight:16,verticalAlign:'bottom',color:'#000'}}}},
  legend:{data:['IMF Bx<0','IMF Bx>0'],orient:'vertical',left:790,top:73,selectedMode:false,
    backgroundColor:'#ffffff',borderColor:AX,borderWidth:1,padding:[10,12,10,36],itemGap:8,
    itemWidth:5,itemHeight:5,icon:'circle',
    textStyle:{fontFamily:FONT,fontSize:19,color:'#000',padding:[0,0,0,26]}},
  grid, xAxis, yAxis, series, graphic
};
chart.setOption(option);
</script></body></html>
